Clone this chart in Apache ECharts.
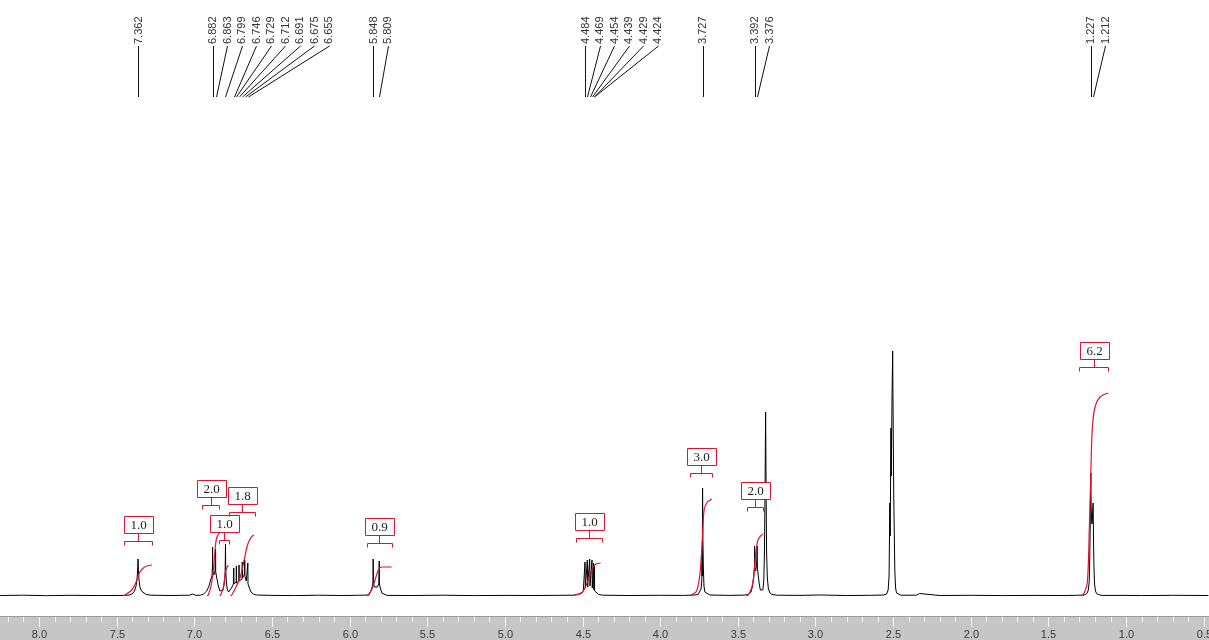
<!DOCTYPE html>
<html>
<head>
<meta charset="utf-8">
<script src="https://cdn.jsdelivr.net/npm/echarts@6/dist/echarts.min.js"></script>
<style>
html,body{margin:0;padding:0;background:#fff;}
#chart{width:1209px;height:640px;}
</style>
</head>
<body>
<div id="chart"></div>
<script>
// ---- DATA ----
// chemical-shift axis (ppm), reversed
const ppmMin = 0.466;
const ppmMax = 8.251;
const majorTicks = [8.0, 7.5, 7.0, 6.5, 6.0, 5.5, 5.0, 4.5, 4.0, 3.5, 3.0, 2.5, 2.0, 1.5, 1.0, 0.5];
const minorTicks = [8.2, 8.1, 7.9, 7.8, 7.7, 7.6, 7.4, 7.3, 7.2, 7.1, 6.9, 6.8, 6.7, 6.6, 6.4, 6.3, 6.2, 6.1, 5.9, 5.8, 5.7, 5.6, 5.4, 5.3, 5.2, 5.1, 4.9, 4.8, 4.7, 4.6, 4.4, 4.3, 4.2, 4.1, 3.9, 3.8, 3.7, 3.6, 3.4, 3.3, 3.2, 3.1, 2.9, 2.8, 2.7, 2.6, 2.4, 2.3, 2.2, 2.1, 1.9, 1.8, 1.7, 1.6, 1.4, 1.3, 1.2, 1.1, 0.9, 0.8, 0.7, 0.6];

// picked peak labels (ppm)
const peakLabels = [7.362, 6.882, 6.863, 6.799, 6.746, 6.729, 6.712, 6.691, 6.675, 6.655, 5.848, 5.809, 4.484, 4.469, 4.454, 4.439, 4.429, 4.424, 3.727, 3.392, 3.376, 1.227, 1.212];

// spectrum trace [ppm, intensity]
const spectrum = [
  [8.25,0.5],[8.1,0.8],[7.95,0.3],[7.8,0.7],[7.6,0.4],[7.45,0.6],
  [7.42,1],[7.40,2],[7.385,5],[7.375,10],[7.368,18],[7.364,28],[7.362,37],[7.360,26],[7.356,16],[7.35,9],[7.34,5],[7.33,3],[7.31,1.5],[7.28,0.8],
  [7.15,0.5],[7.03,0.8],[7.012,2],[7.007,3.5],[7.0,2],[6.99,0.6],
  [6.96,0.8],[6.94,2],[6.92,5],[6.905,10],[6.895,16],[6.886,20],[6.883,30],[6.882,49],[6.881,24],[6.874,21],[6.866,25],[6.864,40],[6.863,47],[6.862,24],[6.855,18],[6.845,10],[6.835,5],[6.825,4],
  [6.815,6],[6.808,12],[6.802,20],[6.800,35],[6.799,52],[6.798,30],[6.794,15],[6.788,7],[6.78,4],
  [6.77,5],[6.76,8],[6.752,10],[6.748,12],[6.746,28],[6.744,12],[6.735,12],[6.730,14],[6.729,30],[6.728,13],[6.72,13],[6.713,15],[6.712,31],[6.711,15],[6.70,16],[6.692,17],[6.691,34],[6.690,18],[6.682,20],[6.676,22],[6.675,36],[6.674,20],[6.665,15],[6.656,14],[6.655,33],[6.654,12],[6.645,8],[6.635,4],[6.62,2],[6.60,1],
  [6.5,0.6],[6.35,0.4],[6.2,0.8],[6.05,0.5],[5.95,0.7],
  [5.875,1],[5.865,3],[5.858,7],[5.852,11],[5.849,14],[5.848,37],[5.847,13],[5.840,9],[5.830,7],[5.820,9],[5.812,12],[5.810,13],[5.809,35],[5.808,12],[5.800,7],[5.792,3],[5.78,1.2],[5.76,0.6],
  [5.6,0.5],[5.4,0.8],[5.2,0.4],[5.0,0.6],[4.8,0.5],[4.65,0.7],
  [4.56,0.8],[4.53,1.5],[4.51,3],[4.495,5],[4.486,7],[4.484,34],[4.482,8],[4.471,9],[4.469,36],[4.467,9],[4.456,10],[4.454,37],[4.452,10],[4.441,9],[4.439,36],[4.437,8],[4.431,7],[4.429,33],[4.427,6],[4.425,6],[4.424,30],[4.422,5],[4.41,3],[4.395,1.5],[4.37,0.8],
  [4.2,0.5],[4.0,0.7],[3.85,0.6],[3.78,1],
  [3.755,1.5],[3.745,3],[3.737,7],[3.732,15],[3.730,40],[3.729,20],[3.728,60],[3.727,108],[3.725,60],[3.722,28],[3.718,10],[3.712,4],[3.70,2],[3.68,1],
  [3.55,0.6],[3.46,0.9],
  [3.43,1.5],[3.415,4],[3.405,10],[3.398,18],[3.393,30],[3.392,50],[3.390,28],[3.385,25],[3.380,30],[3.377,38],[3.376,50],[3.374,28],[3.368,20],[3.362,12],[3.355,6],[3.347,4],[3.339,6],[3.333,15],[3.329,40],[3.325,100],[3.321,184],[3.318,110],[3.315,45],[3.310,18],[3.303,7],[3.293,3],[3.28,1.5],[3.25,0.8],
  [3.1,0.6],[2.98,1],[2.972,2.5],[2.965,1],[2.8,0.5],[2.65,0.7],
  [2.56,1],[2.542,2],[2.532,6],[2.526,20],[2.521,93],[2.519,60],[2.514,168],[2.512,120],[2.507,200],[2.503,245],[2.500,180],[2.496,100],[2.493,68],[2.489,25],[2.484,8],[2.478,3],[2.47,1.5],[2.45,0.8],
  [2.35,0.8],[2.33,2.5],[2.32,0.8],[2.2,0.5],[2.0,0.7],[1.99,2.5],[1.98,0.7],[1.8,0.4],[1.6,0.6],[1.4,0.5],[1.32,0.7],
  [1.27,1],[1.252,2.5],[1.243,6],[1.237,15],[1.233,45],[1.231,70],[1.229,100],[1.227,123],[1.225,90],[1.222,75],[1.219,72],[1.216,80],[1.214,88],[1.212,93],[1.210,60],[1.207,30],[1.203,12],[1.197,5],[1.19,2.5],[1.175,1.2],[1.15,0.6],
  [1.0,0.6],[0.9,0.4],[0.7,0.7],[0.47,0.5]
];

// integral curves [ppm, running integral]
const integral1 = [[7.459,0],[7.446,1],[7.403,6],[7.377,13],[7.354,23],[7.328,28],[7.305,30],[7.272,31]];
const integral2 = [[6.918,0],[6.910,1],[6.892,10],[6.878,25],[6.867,45],[6.856,58],[6.839,63]];
const integral3 = [[6.836,0],[6.830,1],[6.813,8],[6.798,25],[6.781,31]];
const integral4 = [[6.766,0],[6.759,1],[6.738,7],[6.706,18],[6.680,35],[6.659,50],[6.637,58],[6.616,61]];
const integral5 = [[5.890,0],[5.880,1],[5.858,6],[5.836,16],[5.815,26],[5.793,29],[5.729,29]];
const integral6 = [[4.560,0],[4.549,1],[4.505,3],[4.473,12],[4.452,22],[4.431,29],[4.413,32],[4.383,33]];
const integral7 = [[3.810,0],[3.797,1],[3.765,5],[3.744,22],[3.729,55],[3.718,85],[3.701,93],[3.668,97]];
const integral8 = [[3.445,0],[3.433,1],[3.411,8],[3.396,22],[3.383,45],[3.368,57],[3.340,62]];
const integral9 = [[1.290,0],[1.276,1],[1.250,13],[1.237,66],[1.228,116],[1.218,166],[1.200,189],[1.168,199],[1.115,203]];

// integral brackets: start ppm, end ppm, level, value
const bracketStart = [7.453, 6.950, 6.841, 6.777, 5.888, 4.542, 3.808, 3.441, 1.303];
const bracketEnd   = [7.272, 6.841, 6.777, 6.609, 5.727, 4.375, 3.666, 3.338, 1.116];
const bracketLevel = [55, 91, 56, 84, 53, 58, 123, 89, 229];
const integralValues = ['1.0', '2.0', '1.0', '1.8', '0.9', '1.0', '3.0', '2.0', '6.2'];

// ---- CHART ----
const RED = '#dc1430';
const chart = echarts.init(document.getElementById('chart'), null, {renderer: 'canvas'});

const integralCurves = [integral1, integral2, integral3, integral4, integral5, integral6, integral7, integral8, integral9];
const integralSeries = integralCurves.map(c => ({
  type: 'line', xAxisIndex: 0, yAxisIndex: 0, data: c, symbol: 'none', smooth: 0.3,
  lineStyle: {color: RED, width: 1.2}, z: 4, silent: true, animation: false
}));

const bracketData = bracketStart.map((s, i) => [s, bracketEnd[i], bracketLevel[i], i]);
const labelData = peakLabels.map((p, i) => [p, 0, i]);

function crisp(v) { return Math.round(v) + 0.5; }

const BAND_TOP = 616;

const option = {
  animation: false,
  backgroundColor: '#ffffff',
  grid: {left: 0, right: 0, top: 96, bottom: 44, show: false, containLabel: false, outerBoundsMode: 'none'},
  xAxis: {type: 'value', inverse: true, min: ppmMin, max: ppmMax, show: false},
  yAxis: {type: 'value', min: 0, max: 500, show: false},
  series: [
    {type: 'line', data: spectrum, symbol: 'none', smooth: false,
      lineStyle: {color: '#000000', width: 1}, z: 3, silent: true, sampling: null},
    ...integralSeries,
    // integral brackets and value boxes
    {type: 'custom', data: bracketData, clip: false, z: 5, silent: true,
      encode: {x: [0, 1], y: 2},
      renderItem: function (params, api) {
        const i = params.dataIndex;
        const a = api.coord([api.value(0), api.value(2)]);
        const b = api.coord([api.value(1), api.value(2)]);
        const y = crisp(a[1]);
        const x1 = crisp(a[0]), x2 = crisp(b[0]);
        const cx = crisp((a[0] + b[0]) / 2);
        const st = {stroke: RED, lineWidth: 1};
        const boxH = 17, boxW = 29, gap = 8;
        return {type: 'group', children: [
          {type: 'line', shape: {x1: x1, y1: y, x2: x2, y2: y}, style: st},
          {type: 'line', shape: {x1: x1, y1: y, x2: x1, y2: y + 4}, style: st},
          {type: 'line', shape: {x1: x2, y1: y, x2: x2, y2: y + 4}, style: st},
          {type: 'line', shape: {x1: cx, y1: y, x2: cx, y2: y - gap}, style: st},
          {type: 'rect', shape: {x: Math.round(cx - boxW / 2) + 0.5, y: y - gap - boxH, width: boxW, height: boxH},
            style: {fill: '#ffffff', stroke: RED, lineWidth: 1}},
          {type: 'text', x: cx, y: y - gap - boxH / 2 + 0.5,
            style: {text: integralValues[i], fill: '#222222', font: '13px "Liberation Serif"', align: 'center', verticalAlign: 'middle'}}
        ]};
      }
    },
    // peak-pick labels with leader lines
    {type: 'custom', data: labelData, clip: false, z: 5, silent: true,
      encode: {x: 0, y: 1},
      renderItem: function (params, api) {
        const idx = params.dataIndex;
        let lx = -1e9, px = 0;
        for (let j = 0; j <= idx; j++) {
          px = api.coord([peakLabels[j], 0])[0];
          lx = Math.max(px, lx + 14.5);
        }
        return {type: 'group', children: [
          {type: 'line', shape: {x1: crisp(lx), y1: 46, x2: crisp(px), y2: 97}, style: {stroke: '#111111', lineWidth: 1}},
          {type: 'text', x: lx + 0.5, y: 44, rotation: Math.PI / 2,
            style: {text: peakLabels[idx].toFixed(3), fill: '#333333', font: '11px "Liberation Sans"', align: 'left', verticalAlign: 'middle'}}
        ]};
      }
    },
    // ppm scale band: grey ruler, 0.5 ppm major ticks and labels (positions via the x scale)
    {type: 'custom', data: majorTicks.map(v => [v, 0]), clip: false, z: 6, silent: true,
      encode: {x: 0, y: 1},
      renderItem: function (params, api) {
        const v = api.value(0);
        const x = crisp(api.coord([v, 0])[0]);
        const W = api.getWidth();
        const children = [];
        if (params.dataIndex === 0) {
          children.push({type: 'rect', z2: 0, shape: {x: 0, y: BAND_TOP, width: W, height: 640 - BAND_TOP}, style: {fill: '#c6c6c6'}});
          children.push({type: 'line', z2: 1, shape: {x1: 0, y1: BAND_TOP + 0.5, x2: W, y2: BAND_TOP + 0.5}, style: {stroke: '#9c9c9c', lineWidth: 1}});
        }
        children.push({type: 'line', z2: 5, shape: {x1: x, y1: BAND_TOP + 1, x2: x, y2: BAND_TOP + 11}, style: {stroke: '#f6f6f6', lineWidth: 1}});
        children.push({type: 'text', z2: 5, x: x, y: BAND_TOP + 13,
          style: {text: v.toFixed(1), fill: '#3a3a3a', font: '11px "Liberation Sans"', align: 'center', verticalAlign: 'top'}});
        return {type: 'group', children: children};
      }
    },
    // 0.1 ppm minor ticks
    {type: 'custom', data: minorTicks.map(v => [v, 0]), clip: false, z: 7, silent: true,
      encode: {x: 0, y: 1},
      renderItem: function (params, api) {
        const x = crisp(api.coord([api.value(0), 0])[0]);
        return {type: 'line', z2: 5, shape: {x1: x, y1: BAND_TOP + 1, x2: x, y2: BAND_TOP + 6}, style: {stroke: '#f6f6f6', lineWidth: 1}};
      }
    }
  ]
};
chart.setOption(option);
</script>
</body>
</html>
